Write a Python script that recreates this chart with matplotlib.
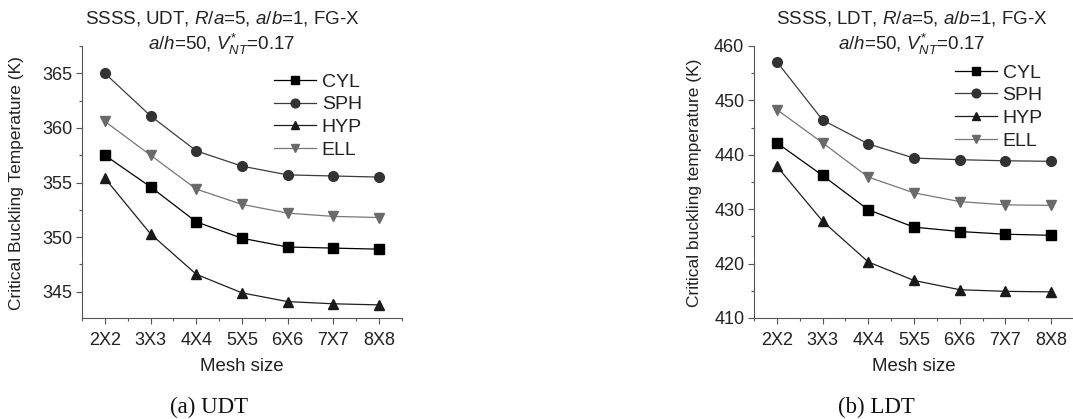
import matplotlib
matplotlib.use("Agg")
import matplotlib.pyplot as plt
from matplotlib.ticker import MultipleLocator

plt.rcParams["font.family"] = ["Liberation Sans", "DejaVu Sans"]
plt.rcParams["mathtext.fontset"] = "custom"
plt.rcParams["mathtext.rm"] = "Liberation Sans"
plt.rcParams["mathtext.it"] = "Liberation Sans:italic"

MESH = ["2X2", "3X3", "4X4", "5X5", "6X6", "7X7", "8X8"]

# (a) UDT
udt_cyl = [357.5, 354.6, 351.4, 349.9, 349.1, 349.0, 348.9]
udt_sph = [365.0, 361.1, 357.9, 356.5, 355.7, 355.6, 355.5]
udt_hyp = [355.4, 350.3, 346.6, 344.9, 344.1, 343.9, 343.8]
udt_ell = [360.6, 357.5, 354.4, 353.0, 352.2, 351.9, 351.8]

# (b) LDT
ldt_cyl = [442.2, 436.2, 429.9, 426.7, 425.9, 425.4, 425.2]
ldt_sph = [457.1, 446.4, 442.0, 439.4, 439.1, 438.9, 438.8]
ldt_hyp = [437.9, 427.8, 420.3, 416.9, 415.2, 414.9, 414.8]
ldt_ell = [448.3, 442.2, 435.9, 433.0, 431.4, 430.8, 430.7]

SERIES = ["CYL", "SPH", "HYP", "ELL"]
STYLE = {
    "CYL": dict(marker="s", color="#000000", mfc="#000000"),
    "SPH": dict(marker="o", color="#3c3c3c", mfc="#333333"),
    "HYP": dict(marker="^", color="#1e1e1e", mfc="#1a1a1a"),
    "ELL": dict(marker="v", color="#777777", mfc="#6a6a6a"),
}

W, H = 1073, 419
fig = plt.figure(figsize=(W / 100, H / 100), dpi=100)


def desenhar(rect, dados, ylim, ymaj, ymin, titulo, ylabel, legpos, caption, cx, ylx):
    ax = fig.add_axes(rect)
    xs = list(range(len(MESH)))
    for nome, vals in zip(SERIES, dados):
        st = STYLE[nome]
        ax.plot(xs, vals, marker=st["marker"], color=st["color"], mfc=st["mfc"],
                mec=st["mfc"], lw=0.9, ms=7, label=nome)
    ax.set_xlim(-0.5, 6.5)
    ax.set_ylim(*ylim)
    ax.set_xticks(xs)
    ax.set_xticklabels(MESH)
    ax.set_xticks([x + 0.5 for x in range(-1, 7)], minor=True)
    ax.yaxis.set_major_locator(MultipleLocator(ymaj))
    ax.yaxis.set_minor_locator(MultipleLocator(ymin))
    for s in ["top", "right"]:
        ax.spines[s].set_visible(False)
    for s in ["left", "bottom"]:
        ax.spines[s].set_color("#555555")
        ax.spines[s].set_linewidth(0.8)
    ax.tick_params(which="major", direction="out", length=4, width=0.8,
                   color="#555555", labelsize=13, labelcolor="#222222", pad=3)
    ax.tick_params(which="minor", direction="out", length=2.5, width=0.8,
                   color="#555555")
    ax.tick_params(axis="x", pad=6)
    leg = ax.legend(loc="upper left", bbox_to_anchor=legpos, frameon=False,
                    fontsize=14, handlelength=2.15, handletextpad=0.3,
                    labelspacing=0.26, borderpad=0, borderaxespad=0,
                    markerscale=0.9)
    for t in leg.get_texts():
        t.set_color("#222222")

    fig.text(cx / W, 1 - 18 / H, titulo, ha="center", va="center",
             fontsize=13.5, color="#222222")
    fig.text(cx / W, 1 - 44 / H, r"$a/h$=50, $V^{*}_{NT}$=0.17", ha="center",
             va="center", fontsize=13.5, color="#222222")
    fig.text(ylx / W, 1 - 183 / H, ylabel, rotation=90, ha="center",
             va="center", fontsize=12.5, color="#222222")
    fig.text(rect[0] + rect[2] * 0.5, 1 - 366 / H, "Mesh size",
             ha="center", va="center", fontsize=13.4, color="#222222")
    fig.text(caption[0] / W, 1 - 407 / H, caption[1], ha="center", va="center",
             fontsize=16.5, family="Liberation Serif", color="#111111")
    return ax


ax_h = 272 / H
ax_b = (H - 318) / H
ax_w = 320 / W

desenhar([82 / W, ax_b, ax_w, ax_h],
         [udt_cyl, udt_sph, udt_hyp, udt_ell],
         (342.6, 367.5), 5, 2.5,
         r"SSSS, UDT, $R/a$=5, $a/b$=1, FG-X",
         "Critical Buckling Temperature (K)",
         (0.60, 0.90), (209, "(a) UDT"), 222, 17)

desenhar([754 / W, ax_b, ax_w, ax_h],
         [ldt_cyl, ldt_sph, ldt_hyp, ldt_ell],
         (410, 460), 10, 5,
         r"SSSS, LDT, $R/a$=5, $a/b$=1, FG-X",
         "Critical buckling temperature (K)",
         (0.628, 0.934), (876, "(b) LDT"), 912, 695)

fig.savefig("out.png", dpi=100)
